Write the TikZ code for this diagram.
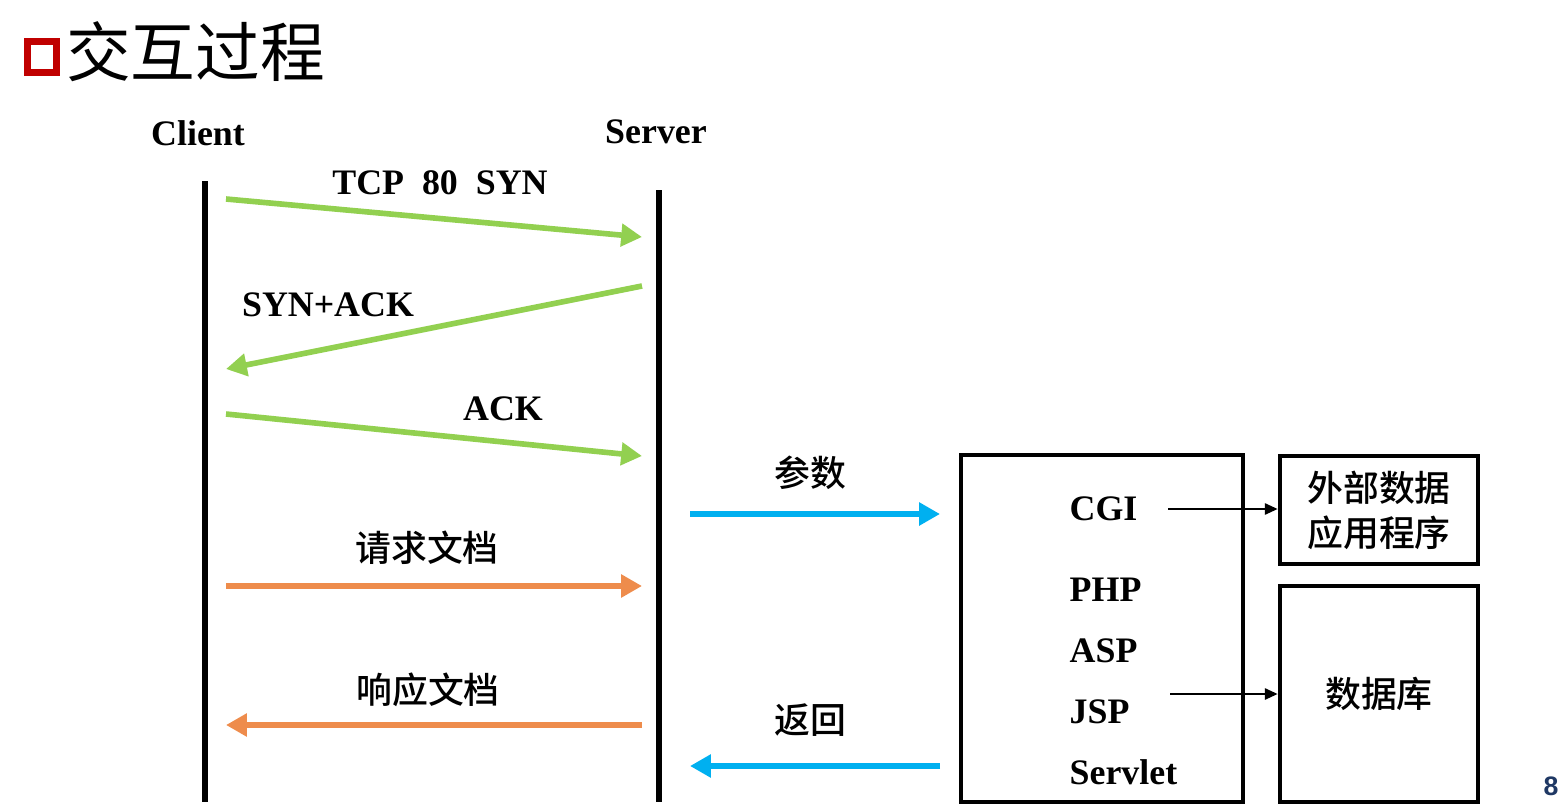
\documentclass[tikz,border=0pt]{standalone}
\usepackage{fontspec}
\setmainfont{Liberation Serif}
\newfontfamily\cjk{Noto Sans CJK SC}
\newfontfamily\cjkm{Noto Sans CJK SC Medium}
\newfontfamily\pagefont{Liberation Sans}
\usetikzlibrary{arrows.meta,positioning}
\definecolor{shakegreen}{HTML}{92D050}
\definecolor{docorange}{HTML}{EE8C4C}
\definecolor{cgiblue}{HTML}{00B0F0}
\definecolor{titlered}{HTML}{C00000}
\definecolor{pagenavy}{HTML}{1F3864}
\tikzset{
  lifeline/.style={line width=4.4pt},
  msg/.style={line width=4pt,-{Triangle[length=0.52cm,width=0.55cm]}},
  thinarrow/.style={line width=1.5pt,-{Triangle[length=0.32cm,width=0.28cm]}},
  box/.style={draw,line width=3.3pt,inner sep=0pt},
  lat/.style={inner sep=1pt,font=\fontsize{25.5}{30}\selectfont\bfseries},
  han/.style={inner sep=1pt,font=\fontsize{25.5}{32}\selectfont\cjkm},
}
\begin{document}
\begin{tikzpicture}[x=0.025cm,y=-0.025cm,line cap=butt,line join=miter]
  \useasboundingbox (0,0) rectangle (1560,809);
  % title
  \draw[titlered,line width=5pt] (27.5,41.5) rectangle (56.5,72.5);
  \node[anchor=west,inner sep=0pt,font=\fontsize{46}{50}\selectfont\cjk] (title) at (66,52) {交互过程};
  \node[anchor=center,inner sep=0pt,text=pagenavy,font=\fontsize{19}{20}\selectfont\pagefont\bfseries] (page) at (1551,786) {8};
  % lifelines
  \node[lat] (client) at (198,133) {Client};
  \node[lat] (server) at (656,132) {Server};
  \coordinate (ctop) at (205,181);
  \coordinate (cbot) at (205,802);
  \coordinate (stop) at (659,190);
  \coordinate (sbot) at (659,802);
  \draw[lifeline] (ctop) -- (cbot);
  \draw[lifeline] (stop) -- (sbot);
  % handshake
  \coordinate (syn1) at (226,199);
  \coordinate (syn2) at (642,237);
  \coordinate (sa1) at (642,286);
  \coordinate (sa2) at (226,369);
  \coordinate (ack1) at (226,414);
  \coordinate (ack2) at (642,456);
  \draw[msg,shakegreen] (syn1) -- (syn2);
  \draw[msg,shakegreen] (sa1) -- (sa2);
  \draw[msg,shakegreen] (ack1) -- (ack2);
  \node[lat] (synlbl) at (440,183) {TCP\ \ 80\ \ SYN};
  \node[lat] (salbl) at (328,305) {SYN+ACK};
  \node[lat] (acklbl) at (503,409) {ACK};
  % documents
  \coordinate (req1) at (226,586);
  \coordinate (req2) at (642,586);
  \coordinate (rsp1) at (642,725);
  \coordinate (rsp2) at (226,725);
  \draw[msg,docorange] (req1) -- (req2);
  \draw[msg,docorange] (rsp1) -- (rsp2);
  \node[han] (reqlbl) at (427,548) {请求文档};
  \node[han] (rsplbl) at (428,690) {响应文档};
  % server side programs
  \node[box,minimum width=7.05cm,minimum height=8.675cm] (engine) at (1102,628.5) {};
  \node[box,minimum width=4.95cm,minimum height=2.7cm,align=center,han,inner sep=0pt] (extapp) at (1379,510) {外部数据\\应用程序};
  \node[box,minimum width=4.95cm,minimum height=5.4cm,han,inner sep=0pt] (db) at (1379,694) {数据库};
  \node[lat,anchor=west] (cgi) at (1068,509) {CGI};
  \node[lat,anchor=west] (php) at (1068,590) {PHP};
  \node[lat,anchor=west] (asp) at (1068,651) {ASP};
  \node[lat,anchor=west] (jsp) at (1068,712) {JSP};
  \node[lat,anchor=west] (servlet) at (1068,772) {Servlet};
  \coordinate (cgiout) at (1168,509);
  \coordinate (jspout) at (1170,694);
  \draw[thinarrow] (cgiout) -- (extapp.west |- cgiout);
  \draw[thinarrow] (jspout) -- (db.west |- jspout);
  \coordinate (par1) at (690,514);
  \coordinate (par2) at (940,514);
  \coordinate (ret1) at (940,766);
  \coordinate (ret2) at (690,766);
  \draw[msg,cgiblue] (par1) -- (par2);
  \draw[msg,cgiblue] (ret1) -- (ret2);
  \node[han] (parlbl) at (810,473) {参数};
  \node[han] (retlbl) at (810,720) {返回};
\end{tikzpicture}
\end{document}
